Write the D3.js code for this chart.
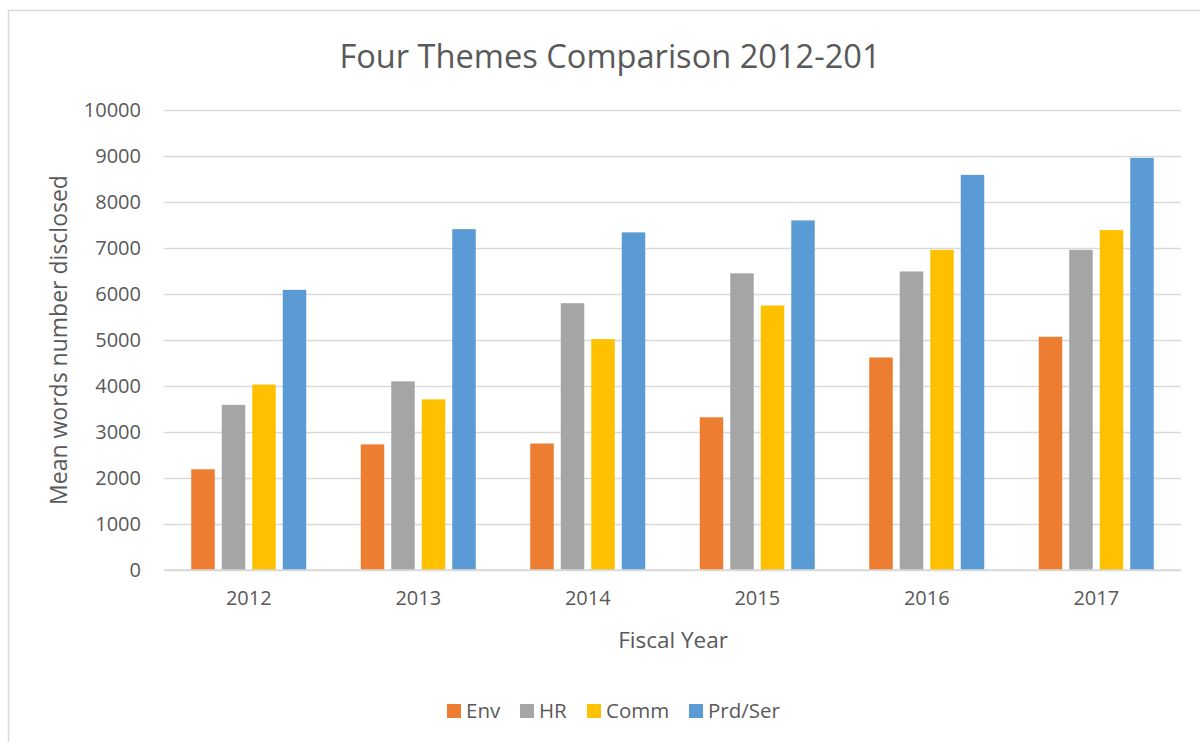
<!DOCTYPE html>
<html>
<head>
<meta charset="utf-8">
<script src="https://cdn.jsdelivr.net/npm/d3@7"></script>
<style>
    body { margin: 0; background: #fff; }
    text { font-family: "Open Sans", sans-serif; fill: #595959; }
</style>
</head>
<body>
<svg id="chart"></svg>
<script>
// categories and series
const years = ['2012', '2013', '2014', '2015', '2016', '2017']
const seriesNames = ['Env', 'HR', 'Comm', 'Prd/Ser']
const env = [2190, 2730, 2750, 3320, 4620, 5070]
const hr = [3590, 4100, 5800, 6450, 6490, 6960]
const comm = [4030, 3710, 5020, 5750, 6960, 7390]
const prdSer = [6090, 7410, 7340, 7600, 8590, 8960]
const yTicks = [0, 1000, 2000, 3000, 4000, 5000, 6000, 7000, 8000, 9000, 10000]
const colors = ['#ED7D31', '#A5A5A5', '#FFC000', '#5B9BD5']

const values = [env, hr, comm, prdSer]
const data = years.map((y, i) => ({
    year: y,
    items: seriesNames.map((s, k) => ({series: s, value: values[k][i]}))
}))

const dimensions = {
    width: 1017,
    height: 460,
    margin: {top: 110, left: 164}
}

const svg = d3.select('#chart')
    .attr('width', 1200)
    .attr('height', 742)

// chart frame
svg.append('rect')
    .attr('x', 8.5).attr('y', 10.5)
    .attr('width', 1200).attr('height', 800)
    .attr('fill', 'none')
    .attr('stroke', '#D9D9D9')
    .attr('stroke-width', 1.5)

const graph = svg.append('g')
    .attr('transform', `translate(${dimensions.margin.left}, ${dimensions.margin.top})`)

const xScale = d3.scaleBand()
    .domain(years)
    .range([0, dimensions.width])
    .padding(0)

// bars inside one year group, centred in the band
const groupWidth = 115
const xInner = d3.scaleBand()
    .domain(seriesNames)
    .range([(xScale.bandwidth() - groupWidth) / 2, (xScale.bandwidth() + groupWidth) / 2])
    .paddingInner(0.23)
    .paddingOuter(0)

const yScale = d3.scaleLinear()
    .domain([0, 10000])
    .range([dimensions.height, 0])

const color = d3.scaleOrdinal().domain(seriesNames).range(colors)

// horizontal grid lines
const yAxisGrid = d3.axisLeft(yScale)
    .tickValues(yTicks)
    .tickSize(-dimensions.width)
    .tickFormat('')
graph.append('g')
    .call(yAxisGrid)
    .call(g => g.select('.domain').remove())
    .call(g => g.selectAll('line').attr('stroke', '#D9D9D9').attr('stroke-width', 1.5))

// y tick labels, no thousands separator
const yAxis = d3.axisLeft(yScale)
    .tickValues(yTicks)
    .tickFormat(d3.format('d'))
    .tickSize(0)
    .tickPadding(23)
graph.append('g')
    .call(yAxis)
    .call(g => g.select('.domain').remove())
    .call(g => g.selectAll('text').style('font-size', '20px').attr('fill', '#595959'))

// x tick labels
const xAxis = d3.axisBottom(xScale)
    .tickSize(0)
    .tickPadding(21)
graph.append('g')
    .attr('transform', `translate(0, ${dimensions.height})`)
    .call(xAxis)
    .call(g => g.select('.domain').remove())
    .call(g => g.selectAll('text').style('font-size', '20px').attr('fill', '#595959'))

// bars
const groups = graph.selectAll('.year')
    .data(data)
    .enter().append('g')
    .attr('class', 'year')
    .attr('transform', d => `translate(${xScale(d.year)}, 0)`)

groups.selectAll('rect')
    .data(d => d.items)
    .enter().append('rect')
    .attr('x', d => xInner(d.series))
    .attr('y', d => yScale(d.value))
    .attr('width', xInner.bandwidth())
    .attr('height', d => dimensions.height - yScale(d.value))
    .attr('fill', d => color(d.series))

// base line drawn over the bars
graph.append('line')
    .attr('x1', 0).attr('x2', dimensions.width)
    .attr('y1', dimensions.height).attr('y2', dimensions.height)
    .attr('stroke', '#D9D9D9')
    .attr('stroke-width', 1.5)

// title
svg.append('text')
    .attr('x', 610).attr('y', 68)
    .attr('text-anchor', 'middle')
    .style('font-size', '32.6px')
    .text('Four Themes Comparison 2012-201')

// axis titles
svg.append('text')
    .attr('transform', 'translate(67, 340) rotate(-90)')
    .attr('text-anchor', 'middle')
    .style('font-size', '23px')
    .text('Mean words number disclosed')

svg.append('text')
    .attr('x', 673).attr('y', 648)
    .attr('text-anchor', 'middle')
    .style('font-size', '22.5px')
    .text('Fiscal Year')

// legend
const legendX = [447, 520, 587, 689]
const legend = svg.selectAll('.legend')
    .data(seriesNames)
    .enter().append('g')
    .attr('class', 'legend')
    .attr('transform', (d, i) => `translate(${legendX[i]}, 704)`)

legend.append('rect')
    .attr('width', 14).attr('height', 14)
    .attr('fill', d => color(d))

legend.append('text')
    .attr('x', 19).attr('y', 14)
    .style('font-size', '20.5px')
    .text(d => d)
</script>
</body>
</html>
